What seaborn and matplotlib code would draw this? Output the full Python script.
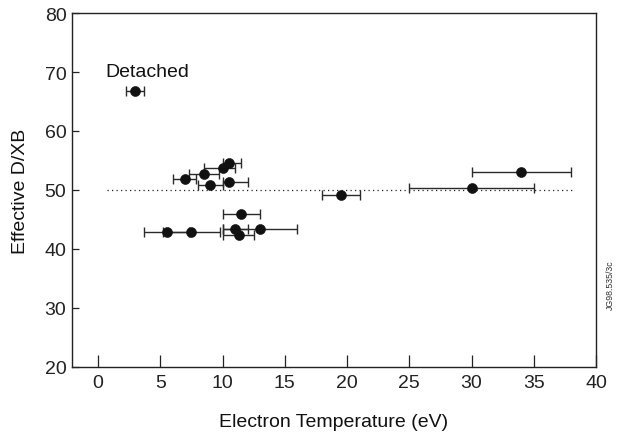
import matplotlib
matplotlib.use("Agg")
import matplotlib.pyplot as plt
import seaborn as sns
import pandas as pd

te = [3.0, 7.0, 8.5, 10.0, 10.5, 9.0, 10.5, 11.5, 5.5, 7.5, 11.0, 11.3, 13.0, 19.5, 30.0, 34.0]
dxb = [66.8, 51.8, 52.7, 53.7, 54.5, 50.8, 51.4, 46.0, 42.9, 42.9, 43.4, 42.4, 43.3, 49.1, 50.4, 53.0]
te_lo = [2.2, 6.0, 7.3, 8.5, 10.0, 8.0, 10.0, 10.0, 3.7, 5.25, 10.0, 10.0, 10.0, 18.0, 25.0, 30.0]
te_hi = [3.7, 7.9, 9.7, 11.0, 11.5, 10.0, 12.0, 13.0, 7.3, 9.8, 12.0, 12.5, 16.0, 21.0, 35.0, 38.0]
x_ticks = [0, 5, 10, 15, 20, 25, 30, 35, 40]
y_ticks = [20, 30, 40, 50, 60, 70, 80]

sns.set_style("ticks")
plt.rcParams['font.family'] = ['Liberation Sans', 'DejaVu Sans']

df = pd.DataFrame({"te": te, "dxb": dxb, "lo": te_lo, "hi": te_hi})

fig = plt.figure(figsize=(6.18, 4.39), dpi=100)
ax = fig.add_axes([0.1165, 0.162, 0.848, 0.806])

ax.plot([0.7, 38.2], [50, 50], linestyle=(0, (1, 2.6)), color="#222222", linewidth=0.9, zorder=1)

xerr = [df["te"] - df["lo"], df["hi"] - df["te"]]
ax.errorbar(df["te"], df["dxb"], xerr=xerr, fmt="none", ecolor="#2a2a2a",
            elinewidth=1.0, capsize=3.6, capthick=1.0, zorder=2)
sns.scatterplot(data=df, x="te", y="dxb", ax=ax, color="#111111", s=52,
                edgecolor="#111111", linewidth=0.4, zorder=3, legend=False)

ax.text(0.6, 69.3, "Detached", fontsize=14, ha="left", va="baseline", color="#111111")

ax.set_xlim(-2.1, 40)
ax.set_ylim(20, 80)
ax.set_xticks(x_ticks)
ax.set_yticks(y_ticks)
ax.tick_params(axis="x", direction="in", length=9, width=0.9, labelsize=14, pad=5, colors="#222222")
ax.tick_params(axis="y", direction="in", length=5, width=0.9, labelsize=14, pad=4, colors="#222222")
for s in ax.spines.values():
    s.set_linewidth(1.0)
    s.set_color("#222222")

ax.set_xlabel("Electron Temperature (eV)", fontsize=14, labelpad=16, color="#111111")
ax.set_ylabel("Effective D/XB", fontsize=14, labelpad=11, color="#111111")

fig.text(0.988, 0.35, "JG98.535/3c", rotation=90, fontsize=6.3, ha="center", va="center", color="#333333")

fig.savefig("out.png", dpi=100)
